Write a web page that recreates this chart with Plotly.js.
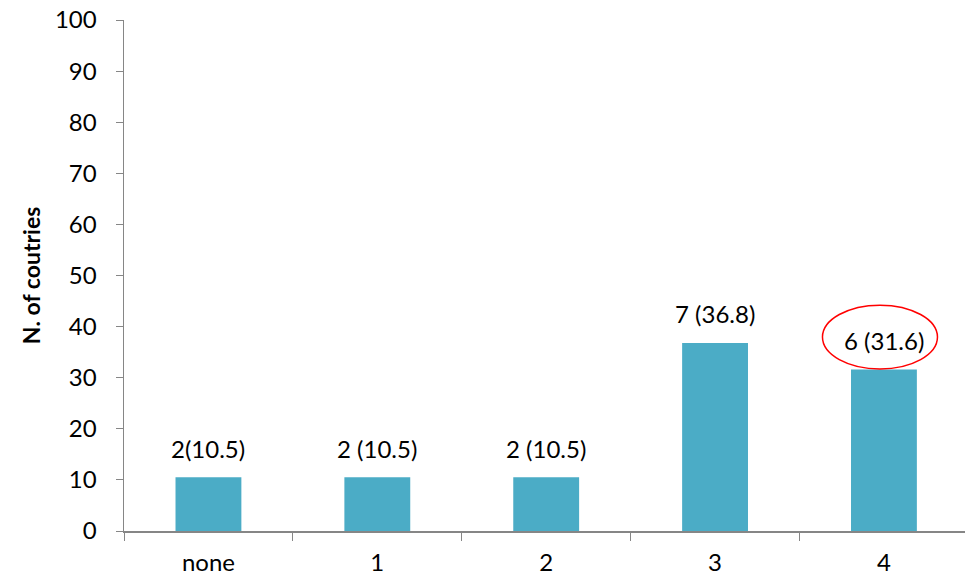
<!DOCTYPE html>
<html><head><meta charset="utf-8">
<script src="https://cdn.plot.ly/plotly-3.0.1.min.js"></script>
<style>html,body{margin:0;padding:0;overflow:hidden;background:#fff}</style>
</head><body><div id="chart" style="width:965px;height:579px"></div>
<script>
const categories = ["none", "1", "2", "3", "4"];
const percentValues = [10.5, 10.5, 10.5, 36.8, 31.6];
const barLabels = ["2(10.5)", "2 (10.5)", "2 (10.5)", "7 (36.8)", "6 (31.6)"];
const yTickValues = [0, 10, 20, 30, 40, 50, 60, 70, 80, 90, 100];
const highlightIndex = 4;

const font = "Lato, 'Open Sans', sans-serif";
const trace = {
  type: "bar", x: categories, y: percentValues,
  marker: {color: "#4BACC6"}, width: 0.39, hoverinfo: "none"
};
const annotations = categories.map((c, i) => ({
  x: c, y: percentValues[i], text: barLabels[i], showarrow: false,
  xanchor: "center", yanchor: "middle", yshift: 29,
  font: {family: font, size: 24, color: "#000"}
}));
const hi = highlightIndex;
const shapes = [{
  type: "circle", xref: "x", yref: "y",
  x0: hi - 0.364, x1: hi + 0.317,
  y0: percentValues[hi] + 0.1, y1: percentValues[hi] + 12.6,
  line: {color: "#FF0000", width: 1.5}
}];
const layout = {
  width: 965, height: 579,
  margin: {l: 124, r: 0, t: 20, b: 48},
  paper_bgcolor: "#fff", plot_bgcolor: "#fff",
  showlegend: false, bargap: 0.61,
  font: {family: font, size: 24, color: "#000"},
  xaxis: {
    range: [-0.5, 4.48], type: "category",
    showline: true, linecolor: "#868686", linewidth: 1.5,
    ticks: "outside", tickson: "boundaries", ticklen: 8, tickcolor: "#868686",
    showgrid: false, zeroline: false, ticklabelstandoff: 10,
    tickfont: {family: font, size: 24, color: "#000"}
  },
  yaxis: {
    range: [0, 100], tickvals: yTickValues, ticktext: yTickValues.map(String),
    showline: true, linecolor: "#868686", linewidth: 1.5,
    ticks: "outside", ticklen: 7, tickcolor: "#868686",
    showgrid: false, zeroline: false, ticklabelstandoff: 14,
    tickfont: {family: font, size: 24, color: "#000"},
    title: {text: "N. of coutries", standoff: 8, font: {family: font, size: 23, color: "#000", weight: "bold"}}
  },
  annotations: annotations, shapes: shapes
};
Plotly.newPlot("chart", [trace], layout, {displayModeBar: false, staticPlot: true});
</script></body></html>
